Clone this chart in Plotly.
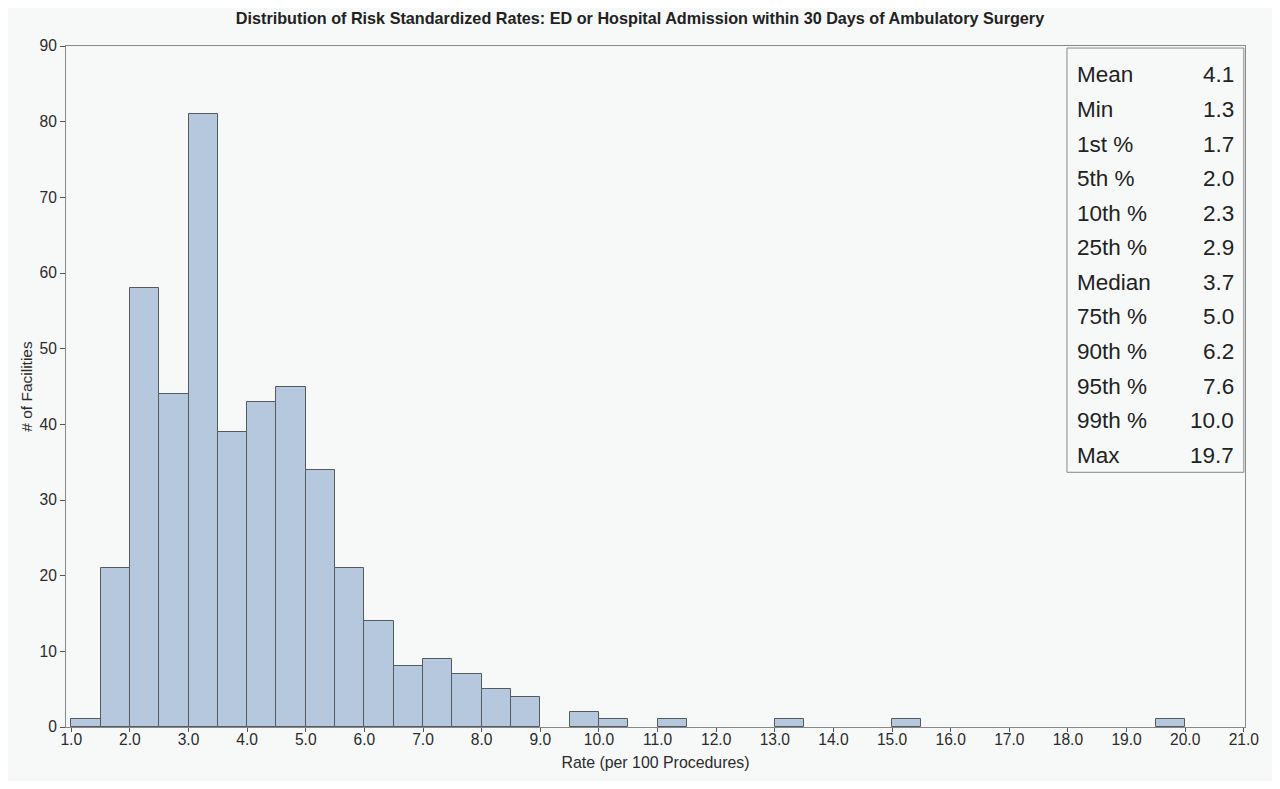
import plotly.graph_objects as go

# histogram bins (left edge, width 0.5) and facility counts
bin_left = [1.0, 1.5, 2.0, 2.5, 3.0, 3.5, 4.0, 4.5, 5.0, 5.5, 6.0, 6.5, 7.0, 7.5,
            8.0, 8.5, 9.5, 10.0, 11.0, 13.0, 15.0, 19.5]
counts = [1, 21, 58, 44, 81, 39, 43, 45, 34, 21, 14, 8, 9, 7,
          5, 4, 2, 1, 1, 1, 1, 1]
bin_width = 0.5

stat_labels = ["Mean", "Min", "1st %", "5th %", "10th %", "25th %", "Median",
               "75th %", "90th %", "95th %", "99th %", "Max"]
stat_values = ["4.1", "1.3", "1.7", "2.0", "2.3", "2.9", "3.7",
               "5.0", "6.2", "7.6", "10.0", "19.7"]

x_ticks = [float(v) for v in range(1, 22)]

FONT = "Liberation Sans, Arial, sans-serif"
BG = "#f7f9f8"

fig = go.Figure()
fig.add_trace(go.Bar(
    x=[b + bin_width / 2 for b in bin_left], y=counts, width=bin_width,
    marker=dict(color="#b6c8de", line=dict(color="#555a61", width=1)),
    hoverinfo="x+y", showlegend=False))

# page body has an 8px margin, so the figure is sized/offset to land
# where the reference plot area sits
fig.update_layout(
    width=1264, height=773,
    margin=dict(l=58, r=27, t=38, b=51),
    paper_bgcolor=BG, plot_bgcolor=BG,
    font=dict(family=FONT, color="#2b2b2b"),
    title=dict(text="<b>Distribution of Risk Standardized Rates: ED or Hospital Admission "
                    "within 30 Days of Ambulatory Surgery</b>",
               x=0.5, xanchor="center", y=0.986, yanchor="middle",
               font=dict(size=16.2, color="#222222")),
    bargap=0,
)
fig.update_xaxes(
    range=[0.91, 21.02], tickvals=x_ticks, tickformat=".1f",
    ticks="outside", ticklen=4, tickcolor="#555555", ticklabelstandoff=-6,
    tickfont=dict(size=15.6), showgrid=False, zeroline=False,
    showline=True, linecolor="#888888", linewidth=1, mirror=True,
    title=dict(text="Rate (per 100 Procedures)", font=dict(size=15.9), standoff=10))
fig.update_yaxes(
    range=[0, 90], dtick=10, ticks="outside", ticklen=5, tickcolor="#555555",
    tickfont=dict(size=15.6), showgrid=False, zeroline=False,
    showline=True, linecolor="#888888", linewidth=1, mirror=True,
    title=dict(text="# of Facilities", font=dict(size=15.5), standoff=3))

# summary statistics box
box_x0, box_x1, box_y0, box_y1 = 0.849, 0.999, 0.374, 0.997
fig.add_shape(type="rect", xref="paper", yref="paper",
              x0=box_x0, x1=box_x1, y0=box_y0, y1=box_y1,
              line=dict(color="#888888", width=1), fillcolor=BG, layer="above")
row_top, row_step = 0.9576, 0.05077
for i, (lab, val) in enumerate(zip(stat_labels, stat_values)):
    yy = row_top - i * row_step
    fig.add_annotation(x=0.856, y=yy, xref="paper", yref="paper", text=lab,
                       showarrow=False, xanchor="left", yanchor="middle",
                       font=dict(size=22.5, color="#222222"))
    fig.add_annotation(x=0.992, y=yy, xref="paper", yref="paper", text=val,
                       showarrow=False, xanchor="right", yanchor="middle",
                       font=dict(size=22.5, color="#222222"))

fig.write_html("out.html")
